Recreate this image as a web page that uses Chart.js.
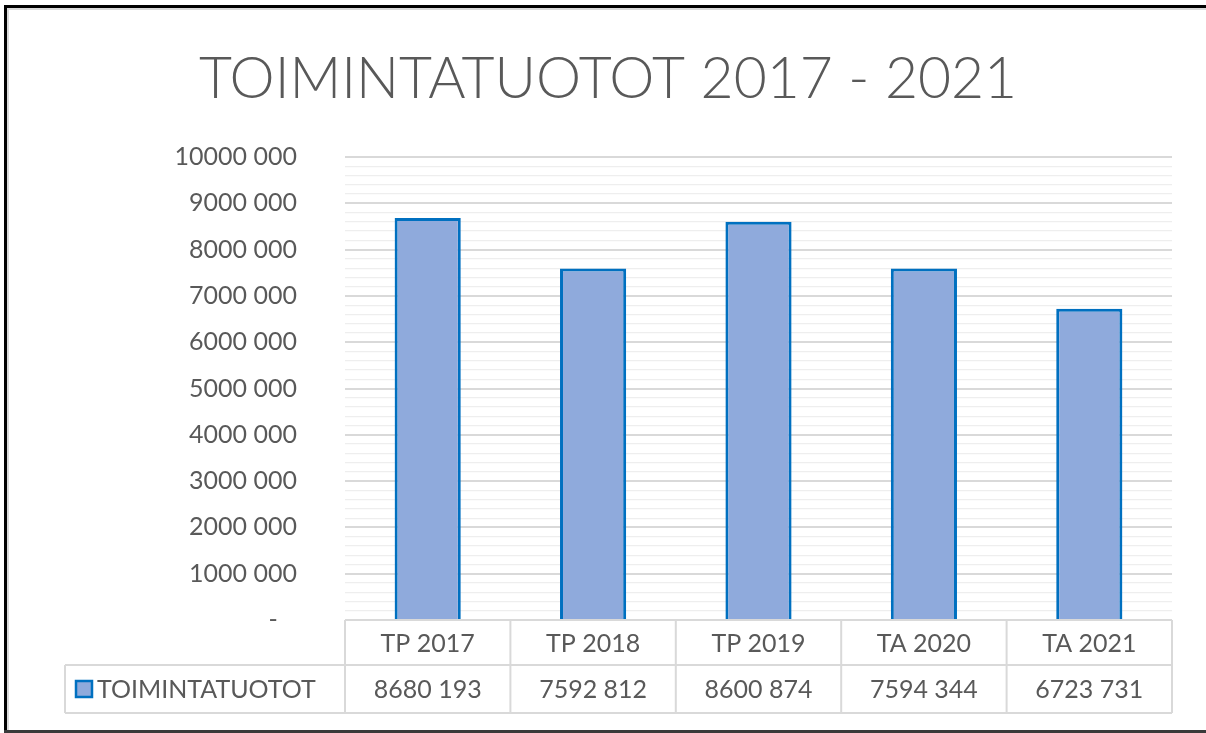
<!DOCTYPE html>
<html>
<head>
<meta charset="utf-8">
<script src="https://cdn.jsdelivr.net/npm/chart.js@4/dist/chart.umd.min.js"></script>
<style>
html,body{margin:0;padding:0;background:#fff;}
#wrap{position:relative;width:1206px;height:733px;}
</style>
</head>
<body>
<div id="wrap"><canvas id="c" width="1206" height="733"></canvas></div>
<script>
const chartTitle = 'TOIMINTATUOTOT 2017 - 2021';
const seriesName = 'TOIMINTATUOTOT';
const categories = ['TP 2017', 'TP 2018', 'TP 2019', 'TA 2020', 'TA 2021'];
const values = [8680193, 7592812, 8600874, 7594344, 6723731];
const yMin = 0;
const yMax = 10000000;
const yMajorStep = 1000000;
const yMinorStep = 200000;

const FONT = 'Lato, "Open Sans", sans-serif';
const TEXT = '#595959';

function fmt(v) {
  if (v === 0) return '-   ';
  const hi = Math.floor(v / 1000);
  const lo = String(v % 1000).padStart(3, '0');
  return hi + ' ' + lo;
}

const frameAndTable = {
  id: 'frameAndTable',
  beforeDraw(chart) {
    const ctx = chart.ctx;
    ctx.save();
    ctx.fillStyle = '#fff';
    ctx.fillRect(0, 0, chart.width, chart.height);
    ctx.restore();
  },
  afterDraw(chart) {
    const ctx = chart.ctx;
    const x = chart.scales.x;
    const area = chart.chartArea;
    ctx.save();
    // title
    ctx.fillStyle = TEXT;
    ctx.font = '300 57px ' + FONT;
    ctx.textAlign = 'center';
    ctx.textBaseline = 'alphabetic';
    ctx.fillText(chartTitle, 608, 98);

    // data table
    const n = categories.length;
    const cw = (area.right - area.left) / n;
    const top = area.bottom;
    const mid = top + 45;
    const bot = top + 93;
    const legLeft = 65;
    ctx.strokeStyle = '#d9d9d9';
    ctx.lineWidth = 2;
    ctx.beginPath();
    ctx.moveTo(area.left, top); ctx.lineTo(area.right, top);
    ctx.moveTo(legLeft, mid); ctx.lineTo(area.right, mid);
    ctx.moveTo(legLeft, bot); ctx.lineTo(area.right, bot);
    ctx.moveTo(legLeft, mid); ctx.lineTo(legLeft, bot);
    for (let i = 0; i <= n; i++) {
      const xx = (i < n) ? x.getPixelForValue(i) - cw / 2 : x.getPixelForValue(n - 1) + cw / 2;
      ctx.moveTo(xx, top); ctx.lineTo(xx, bot);
    }
    ctx.stroke();

    ctx.fillStyle = TEXT;
    ctx.font = '25px ' + FONT;
    ctx.textAlign = 'center';
    ctx.textBaseline = 'middle';
    for (let i = 0; i < n; i++) {
      const cx = x.getPixelForValue(i);
      ctx.fillText(categories[i], cx, (top + mid) / 2 + 1);
      ctx.fillText(fmt(values[i]), cx, (mid + bot) / 2 + 1);
    }
    // legend key
    const ds = chart.data.datasets[0];
    ctx.fillStyle = ds.backgroundColor;
    ctx.fillRect(76, 681, 16, 16);
    ctx.strokeStyle = ds.borderColor;
    ctx.lineWidth = 2.5;
    ctx.strokeRect(76, 681, 16, 16);
    ctx.fillStyle = TEXT;
    ctx.textAlign = 'left';
    ctx.fillText(seriesName, 97, (mid + bot) / 2 + 1);

    // outer frame
    ctx.fillStyle = '#d9d9d9';
    ctx.fillRect(7, 8, 2, 722);
    ctx.fillRect(7, 8, 1199, 2);
    ctx.fillStyle = '#000';
    ctx.fillRect(4, 5, 3, 728);
    ctx.fillRect(4, 5, 1202, 3);
    ctx.fillStyle = '#3a3a3a';
    ctx.fillRect(4, 730, 1202, 3);
    ctx.restore();
  }
};

new Chart(document.getElementById('c'), {
  type: 'bar',
  data: {
    labels: categories,
    datasets: [{
      label: seriesName,
      data: values,
      backgroundColor: '#8faadc',
      borderColor: '#0070c0',
      borderWidth: 3,
      barPercentage: 0.4,
      categoryPercentage: 1.0
    }]
  },
  options: {
    responsive: false,
    animation: false,
    layout: { padding: { left: 0, top: 157, right: 34, bottom: 113 } },
    plugins: { legend: { display: false }, title: { display: false }, tooltip: { enabled: false } },
    scales: {
      x: { display: false, grid: { display: false } },
      y: {
        min: yMin, max: yMax,
        afterFit(scale) { scale.width = 345; },
        border: { display: false },
        grid: {
          drawTicks: false,
          color: (c) => (c.tick && c.tick.value % yMajorStep === 0) ? '#d9d9d9' : '#eeeeee',
          lineWidth: (c) => (c.tick && c.tick.value % yMajorStep === 0) ? 2 : 1.2
        },
        ticks: {
          stepSize: yMinorStep,
          autoSkip: false,
          padding: 48,
          color: TEXT,
          font: { family: FONT, size: 25 },
          callback: (v) => (v % yMajorStep === 0) ? fmt(v) : ''
        }
      }
    }
  },
  plugins: [frameAndTable]
});
</script>
</body>
</html>
